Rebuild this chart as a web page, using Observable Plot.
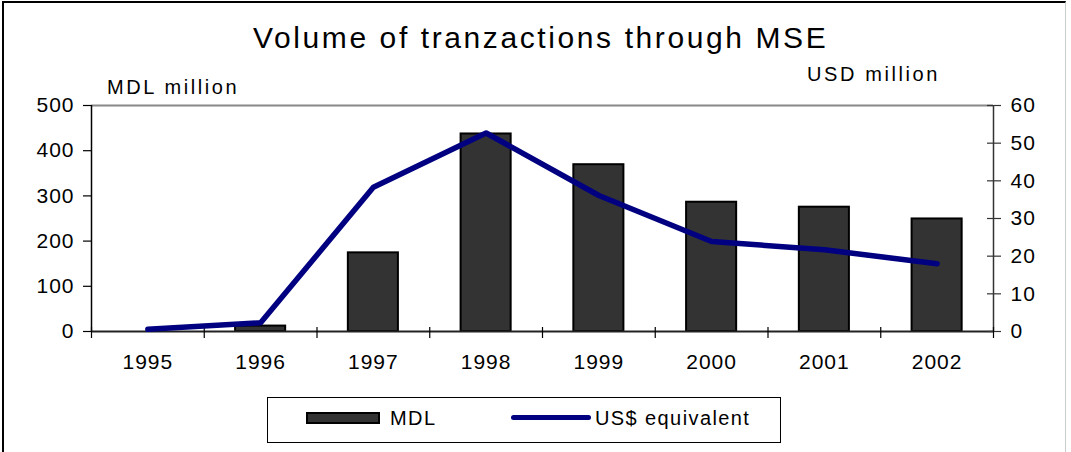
<!DOCTYPE html>
<html>
<head>
<meta charset="utf-8">
<script src="https://cdn.jsdelivr.net/npm/d3@7"></script>
<script src="https://cdn.jsdelivr.net/npm/@observablehq/plot@0.6"></script>
<style>
  html, body { margin: 0; padding: 0; background: #fff; }
  #wrap { position: relative; width: 1071px; height: 452px; overflow: hidden; font-family: 'Liberation Sans', Arial, sans-serif; color: #000; }
  #frame { position: absolute; left: 2px; top: 1px; width: 1064px; height: 460px; border-top: 2px solid #000; border-left: 2px solid #000; border-right: 1px solid #ccc; box-sizing: border-box; }
  .lbl { position: absolute; white-space: nowrap; }
  #title { left: 253px; top: 23px; font-size: 30px; line-height: 30px; letter-spacing: 2.6px; }
  #yl { left: 107px; top: 77px; font-size: 20px; line-height: 20px; letter-spacing: 2.6px; }
  #yr { left: 807px; top: 64px; font-size: 20px; line-height: 20px; letter-spacing: 2.6px; }
  #legend { position: absolute; left: 267px; top: 397px; width: 514px; height: 46px; border: 1px solid #000; box-sizing: border-box; }
  #legend .sw1 { position: absolute; left: 38px; top: 14px; width: 74px; height: 12px; background: #333; border: 2px solid #000; box-sizing: border-box; }
  #legend .sw2 { position: absolute; left: 243px; top: 17px; width: 80px; height: 5px; background: #000080; border-radius: 3px; }
  #legend .t { position: absolute; top: 10px; font-size: 20px; line-height: 20px; letter-spacing: 1.4px; }
  #plot { position: absolute; left: 0; top: 0; }
</style>
</head>
<body>
<div id="wrap">
  <div id="plot"></div>
  <div id="frame"></div>
  <div id="title" class="lbl">Volume of tranzactions through MSE</div>
  <div id="yl" class="lbl">MDL million</div>
  <div id="yr" class="lbl">USD million</div>
  <div id="legend">
    <div class="sw1"></div><div class="t" style="left:122px">MDL</div>
    <div class="sw2"></div><div class="t" style="left:327px">US$ equivalent</div>
  </div>
</div>
<script>
const years = [1995, 1996, 1997, 1998, 1999, 2000, 2001, 2002];
const mdlValues = [0, 12, 174, 437, 369, 286, 275, 249];
const usdValues = [0.6, 2.3, 38.3, 52.7, 36.1, 23.9, 21.7, 18.0];
const leftTicks = [0, 100, 200, 300, 400, 500];
const rightTicks = [0, 10, 20, 30, 40, 50, 60];

const leftMax = 500, rightMax = 60;
const k = leftMax / rightMax;
const data = years.map((year, i) => ({year, mdl: mdlValues[i], usd: usdValues[i]}));
const first = years[0] - 0.5, last = years[years.length - 1] + 0.5;
const bounds = years.map(y => y - 0.5).concat([last]);
const halfBar = 0.222;

const chart = Plot.plot({
  width: 1071,
  height: 452,
  marginLeft: 91,
  marginRight: 78,
  marginTop: 105,
  marginBottom: 121,
  style: {fontFamily: "'Liberation Sans', Arial, sans-serif", fontSize: "21px", color: "#000", background: "transparent", overflow: "visible", letterSpacing: "1px"},
  x: {type: "linear", domain: [first, last]},
  y: {domain: [0, leftMax]},
  marks: [
    Plot.ruleY([leftMax], {x1: first, x2: last, stroke: "#888", strokeWidth: 2}),
    Plot.rectY(data, {x1: d => d.year - halfBar, x2: d => d.year + halfBar, y1: 0, y2: d => d.mdl, fill: "#333", stroke: "#000", strokeWidth: 2}),
    Plot.ruleX([first], {y1: 0, y2: leftMax, stroke: "#000", strokeWidth: 1.5}),
    Plot.ruleX([last], {y1: 0, y2: leftMax, stroke: "#333", strokeWidth: 1.5}),
    Plot.ruleY([0], {x1: first, x2: last, stroke: "#222", strokeWidth: 2}),
    Plot.ruleX(bounds, {y1: 0, y2: 0, insetTop: -4, insetBottom: -7, stroke: "#000", strokeWidth: 1.2}),
    Plot.ruleY(rightTicks.map(v => v * k), {x1: last, x2: last, insetLeft: -6, insetRight: 0, stroke: "#333", strokeWidth: 1.2}),
    Plot.axisY(leftTicks, {anchor: "left", tickSize: 8, tickPadding: 9, stroke: "#000", strokeWidth: 1.2, label: null}),
    Plot.axisY(rightTicks.map(v => v * k), {anchor: "right", tickSize: 7, tickPadding: 10, stroke: "#333", strokeWidth: 1.2, tickFormat: d => String(Math.round(d / k)), label: null}),
    Plot.axisX(years, {anchor: "bottom", tickSize: 0, tickPadding: 23, tickFormat: d => String(d), label: null}),
    Plot.line(data, {x: "year", y: d => d.usd * k, stroke: "#000080", strokeWidth: 5.5, strokeLinecap: "round", strokeLinejoin: "round"})
  ]
});
document.getElementById("plot").appendChild(chart);
</script>
</body>
</html>
